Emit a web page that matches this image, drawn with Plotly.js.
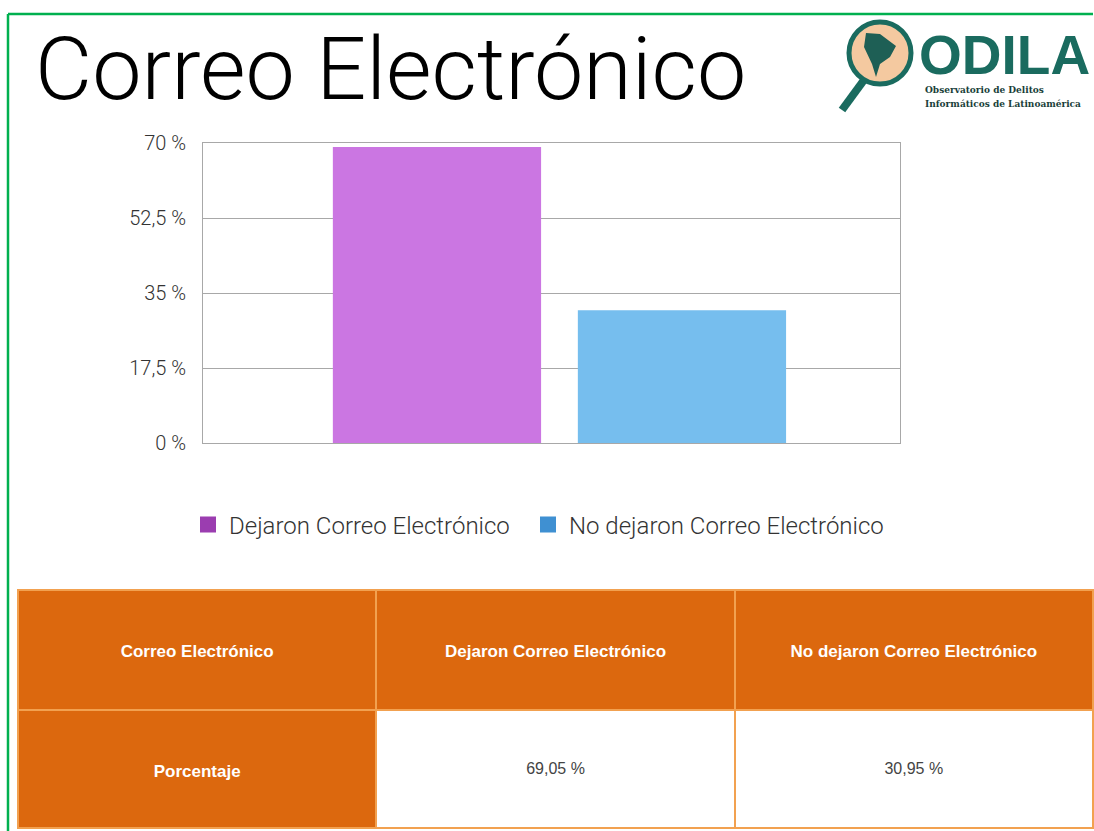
<!DOCTYPE html>
<html>
<head>
<meta charset="utf-8">
<script src="https://cdn.plot.ly/plotly-3.0.1.min.js"></script>
<style>html,body{margin:0;padding:0;background:#fff;}#chart{width:1094px;height:831px;}</style>
</head>
<body>
<div id="chart"></div>
<script>
// ---- data ----
const categories = ["Dejaron Correo Electrónico", "No dejaron Correo Electrónico"];
const percentages = [69.05, 30.95];
const tickValues = [0, 17.5, 35, 52.5, 70];
const tickLabels = ["0 %", "17,5 %", "35 %", "52,5 %", "70 %"];
const tableHeader = ["Correo Electrónico", "Dejaron Correo Electrónico", "No dejaron Correo Electrónico"];
const tableRowLabel = ["Porcentaje"];
const tableValues = ["69,05 %", "30,95 %"];
const chartTitle = "Correo Electrónico";

// ---- styles ----
const barColors = ["#CB76E2", "#76BEEE"];
const legendColors = ["#9B3DB0", "#3F90D2"];
const legendIds = ["legend", "legend2"];
const W = 1094, H = 831;
const px = x => x / W;
const py = y => 1 - y / H;
const pad = "\u00A0<br>\u00A0<br>";

const traces = [];
categories.forEach((c, i) => {
  traces.push({
    type: "bar", x: [i], y: [percentages[i]], name: c,
    width: 0.85, showlegend: false,
    marker: {color: barColors[i], line: {width: 0}},
    hoverinfo: "y"
  });
});
categories.forEach((c, i) => {
  traces.push({
    type: "scatter", mode: "markers", x: [i], y: [null], name: c,
    legend: legendIds[i],
    marker: {color: legendColors[i], symbol: "square", size: 16},
    showlegend: true, hoverinfo: "skip"
  });
});

traces.push({
  type: "table",
  domain: {x: [px(18), px(1093)], y: [py(829), py(590)]},
  columnwidth: [1, 1, 1],
  header: {
    values: tableHeader.map(t => pad + "<b>" + t + "</b>"),
    height: 120, align: "center",
    fill: {color: "#DC680E"},
    line: {color: "#F2A150", width: 2},
    font: {family: "Liberation Sans, Arial, sans-serif", size: 17, color: "#FFFFFF"}
  },
  cells: {
    values: [tableRowLabel.map(t => pad + "<b>" + t + "</b>"), [pad + tableValues[0]], [pad + tableValues[1]]],
    height: 118, align: "center",
    fill: {color: [["#DC680E"], ["#FFFFFF"], ["#FFFFFF"]]},
    line: {color: "#F2A150", width: 2},
    font: {family: "Liberation Sans, Arial, sans-serif", size: [17, 16, 16], color: [["#FFFFFF"], ["#444444"], ["#444444"]]}
  }
});

const legendFont = {family: "Roboto, Liberation Sans, sans-serif", size: 24, color: "#333333", weight: 300};

const layout = {
  width: W, height: H,
  margin: {l: 0, r: 0, t: 0, b: 0},
  paper_bgcolor: "#FFFFFF", plot_bgcolor: "rgba(0,0,0,0)",
  barmode: "overlay",
  showlegend: true,
  legend: {
    orientation: "h", x: px(187), xanchor: "left", y: py(525), yanchor: "middle",
    font: legendFont, itemsizing: "trace", itemwidth: 32
  },
  legend2: {
    orientation: "h", x: px(527), xanchor: "left", y: py(525), yanchor: "middle",
    font: legendFont, itemsizing: "trace", itemwidth: 32
  },
  xaxis: {
    domain: [px(203), px(900)], range: [-0.955, 1.89],
    showticklabels: false, showgrid: false, zeroline: false,
    showline: true, mirror: true, linecolor: "#A8A8A8", linewidth: 1, ticks: ""
  },
  yaxis: {
    domain: [py(443), py(143)], range: [0, 70],
    tickvals: tickValues, ticktext: tickLabels,
    showgrid: true, gridcolor: "#A8A8A8", gridwidth: 1, zeroline: false,
    showline: true, mirror: true, linecolor: "#A8A8A8", linewidth: 1,
    ticks: "", ticklen: 0, ticklabelstandoff: 12,
    tickfont: {family: "Roboto, Liberation Sans, sans-serif", size: 20, color: "#333333", weight: 300}
  },
  title: {
    text: chartTitle, x: px(35), xanchor: "left", y: py(68), yanchor: "middle",
    font: {family: "Roboto, Liberation Sans, sans-serif", size: 88, color: "#000000", weight: 300}
  },
  shapes: [
    // green frame
    {type: "line", xref: "paper", yref: "paper", x0: px(8), x1: px(1093), y0: py(14), y1: py(14), line: {color: "#00B04F", width: 2.5}},
    {type: "line", xref: "paper", yref: "paper", x0: px(8), x1: px(8), y0: py(14), y1: py(831), line: {color: "#00B04F", width: 2.5}},
    // logo magnifier
    {type: "line", xref: "paper", yref: "paper", x0: px(864), y0: py(80), x1: px(842), y1: py(110), line: {color: "#1A6B5F", width: 8}},
    {type: "circle", xref: "paper", yref: "paper", x0: px(849), y0: py(22), x1: px(911), y1: py(84), fillcolor: "#F4C9A0", line: {color: "#1A6B5F", width: 5}},
    {type: "path", xref: "paper", yref: "paper",
     path: "M " + px(866) + "," + py(33) + " L " + px(880) + "," + py(34) + " L " + px(896) + "," + py(46) + " L " + px(890) + "," + py(57) + " L " + px(880) + "," + py(64) + " L " + px(876) + "," + py(77) + " L " + px(872) + "," + py(64) + " L " + px(864) + "," + py(47) + " Z",
     fillcolor: "#1E5F55", line: {width: 0}}
  ],
  annotations: [
    {xref: "paper", yref: "paper", x: px(917), y: py(55), xanchor: "left", yanchor: "middle", showarrow: false,
     text: "<b>ODILA</b>", font: {family: "Liberation Sans, Arial, sans-serif", size: 55, color: "#1A6B5F"}},
    {xref: "paper", yref: "paper", x: px(923), y: py(90), xanchor: "left", yanchor: "middle", showarrow: false,
     text: "<b>Observatorio de Delitos</b>", font: {family: "DejaVu Serif Condensed, DejaVu Serif, serif", size: 10, color: "#1A3F3A"}},
    {xref: "paper", yref: "paper", x: px(923), y: py(103), xanchor: "left", yanchor: "middle", showarrow: false,
     text: "<b>Informáticos de Latinoamérica</b>", font: {family: "DejaVu Serif Condensed, DejaVu Serif, serif", size: 10, color: "#1A3F3A"}}
  ]
};

Plotly.newPlot("chart", traces, layout, {displayModeBar: false, responsive: false});
</script>
</body>
</html>
